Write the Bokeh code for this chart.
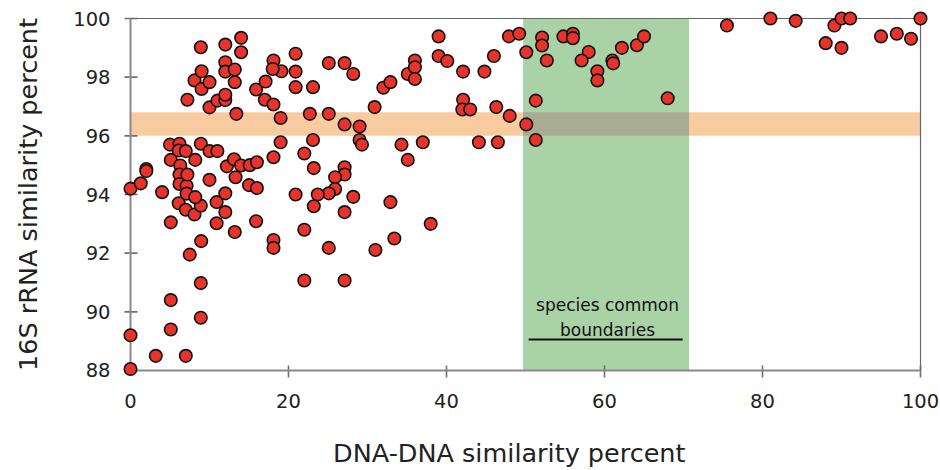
from bokeh.plotting import figure
from bokeh.models import Range1d, FixedTicker, Label, LinearAxis
from bokeh.embed import file_html
from bokeh.resources import INLINE

# ---- data ----
dna_similarity = [
    0.0, 0.0, 0.0, 1.3, 2.0, 2.0, 3.2, 4.0,
    5.0, 5.1, 5.1, 5.1, 5.1, 6.2, 6.1, 6.3, 6.2, 6.2, 7.1, 7.1, 7.0, 7.2, 6.1, 7.0, 8.1, 8.9, 8.2, 8.2, 8.9, 10.0, 11.0, 10.0,
    7.2, 8.1, 9.0, 9.0, 10.0, 8.9, 10.0, 11.0, 12.0, 12.0, 13.4, 12.0, 14.0, 14.0, 12.0, 12.0, 13.2, 13.2,
    7.0, 7.5, 8.9, 8.9, 8.95, 10.9, 12.0, 12.0, 10.9, 13.2, 12.2, 13.1, 14.0, 13.3, 15.1, 16.0, 15.0, 16.0, 15.9,
    15.9, 17.1, 17.0, 18.1, 19.0, 19.0, 18.1, 18.1, 19.1, 18.0, 20.9, 20.9, 20.9, 23.1, 25.1, 27.1, 28.2, 18.1, 18.1,
    22.7, 25.1, 27.1, 29.0, 29.0, 29.3, 23.1, 22.0, 23.2, 27.1, 27.1, 25.9, 25.9, 25.1, 23.7, 20.9, 28.2, 23.2, 27.1, 22.0, 25.1, 22.0, 27.1,
    30.9, 32.0, 32.9, 35.1, 36.0, 36.0, 36.0, 39.0, 39.0, 40.1, 34.3, 37.0, 35.1, 32.9, 33.4, 31.0, 38.0,
    42.1, 44.8, 46.0, 47.9, 49.2, 50.1, 42.1, 42.0, 43.0, 46.3, 48.0, 50.1, 44.1, 46.5, 51.3, 51.3,
    52.1, 52.1, 52.7, 54.8, 56.0, 56.0, 58.0, 57.1, 59.1, 59.1, 61.0, 61.1, 62.2, 64.1, 65.0, 68.0,
    75.5, 81.0, 84.2, 89.1, 90.0, 91.1, 88.0, 90.0, 95.0, 97.0, 98.8, 100.0,
]
rrna_similarity = [
    94.2, 89.2, 88.05, 94.38, 94.87, 94.8, 88.5, 94.08,
    95.7, 95.18, 93.05, 90.4, 89.4, 95.73, 95.5, 94.99, 94.68, 94.36, 94.3, 94.03, 95.48, 94.68, 93.7, 93.48, 93.32, 93.62, 93.91, 95.18, 95.73, 95.48, 95.48, 94.5,
    97.23, 97.89, 98.2, 97.6, 97.83, 99.02, 96.97, 97.2, 97.22, 97.4, 96.75, 99.11, 99.34, 98.85, 98.51, 98.19, 98.26, 97.83,
    88.5, 91.95, 90.98, 89.8, 92.41, 93.74, 94.04, 93.4, 93.02, 92.72, 94.96, 95.2, 94.99, 94.59, 95.0, 95.1, 94.32, 94.22, 93.09,
    97.58, 97.85, 97.23, 97.07, 96.61, 95.78, 95.27, 98.57, 98.2, 98.28, 98.8, 98.19, 97.66, 97.66, 98.48, 98.48, 98.11, 92.45, 92.18,
    96.75, 96.75, 96.39, 96.32, 95.86, 95.7, 95.86, 95.4, 94.9, 94.93, 94.68, 94.59, 94.19, 94.04, 94.0, 94.0, 93.92, 93.6, 93.4, 92.8, 92.18, 91.07, 91.07,
    96.98, 97.64, 97.83, 98.11, 98.57, 98.34, 97.94, 99.39, 98.72, 98.55, 95.7, 95.78, 95.18, 93.74, 92.5, 92.11, 93.0,
    98.19, 98.19, 98.72, 99.39, 99.48, 98.85, 97.23, 96.9, 96.9, 96.98, 96.68, 96.39, 95.78, 95.78, 95.86, 97.2,
    99.35, 99.08, 98.57, 99.39, 99.48, 99.33, 98.86, 98.57, 98.2, 97.89, 98.57, 98.47, 99.0, 99.09, 99.39, 97.28,
    99.76, 100.0, 99.92, 99.76, 100.0, 100.0, 99.16, 99.0, 99.39, 99.48, 99.31, 100.0,
]
x_ticks = [0, 20, 40, 60, 80, 100]
y_ticks = [88, 90, 92, 94, 96, 98, 100]
x_limits = [0, 100]
y_limits = [88, 100]
rrna_band = [96.0, 96.8]          # 16S rRNA threshold band
dna_band = [49.7, 70.7]           # species common boundaries band
band_text = ["species common", "boundaries"]
x_title = "DNA-DNA similarity percent"
y_title = "16S rRNA similarity percent"

# ---- layout ----
PX_X = 7.9      # px per x unit
PX_Y = 29.333   # px per y unit
PAD_X, PAD_Y = 9, 8
TICK_COLOR = "#6f6f6f"

p = figure(
    frame_width=808, frame_height=368,
    x_range=Range1d(x_limits[0] - PAD_X / PX_X, x_limits[1] + PAD_X / PX_X),
    y_range=Range1d(y_limits[0] - PAD_Y / PX_Y, y_limits[1] + PAD_Y / PX_Y),
    min_border_left=121, min_border_right=11, min_border_top=10, min_border_bottom=92,
    output_backend="svg", toolbar_location=None,
)
p.grid.visible = False
p.outline_line_color = None
p.background_fill_color = "white"
p.border_fill_color = "white"

# bands
p.quad(left=[x_limits[0]], right=[x_limits[1]], bottom=[rrna_band[0]], top=[rrna_band[1]],
       fill_color="#F8CBA0", line_color=None)
p.quad(left=[dna_band[0]], right=[dna_band[1]], bottom=[y_limits[0]], top=[y_limits[1]],
       fill_color="#A9D3A7", line_color=None)
p.quad(left=[dna_band[0]], right=[dna_band[1]], bottom=[rrna_band[0]], top=[rrna_band[1]],
       fill_color="#A9AB92", line_color=None)

# tick marks crossing the axis lines
xt = [t for t in x_ticks if t != x_limits[0]]
p.segment(x0=xt, x1=xt, y0=[y_limits[0] - 7 / PX_Y] * len(xt), y1=[y_limits[0] + 5 / PX_Y] * len(xt),
          line_color=TICK_COLOR, line_width=1.6)
yt = [t for t in y_ticks if t != y_limits[0]]
p.segment(y0=yt, y1=yt, x0=[x_limits[0] - 6 / PX_X] * len(yt), x1=[x_limits[0] + 7 / PX_X] * len(yt),
          line_color=TICK_COLOR, line_width=1.6)

# frame lines
p.segment(x0=[x_limits[0], x_limits[0]], y0=[y_limits[0], y_limits[0]],
          x1=[x_limits[1], x_limits[0]], y1=[y_limits[0], y_limits[1]],
          line_color="#8a8a8a", line_width=2)
p.segment(x0=[x_limits[0], x_limits[1]], y0=[y_limits[1], y_limits[0]],
          x1=[x_limits[1], x_limits[1]], y1=[y_limits[1], y_limits[1]],
          line_color="#666666", line_width=1.2)

# band label with underline
p.add_layout(Label(x=60.38, y=90.22, text=band_text[0], text_align="center",
                   text_baseline="alphabetic", text_font="DejaVu Sans",
                   text_font_size="17px", text_color="#111111"))
p.add_layout(Label(x=60.38, y=89.39, text=band_text[1], text_align="center",
                   text_baseline="alphabetic", text_font="DejaVu Sans",
                   text_font_size="17px", text_color="#111111"))
p.segment(x0=[50.4], y0=[89.06], x1=[69.9], y1=[89.06], line_color="#111111", line_width=2)

# points
p.scatter(dna_similarity, rrna_similarity, size=12.5, marker="circle",
          fill_color="#E8332B", line_color="#111111", line_width=1.6)

# axes: labels only (ticks drawn above)
for ax, ticks in ((p.xaxis, x_ticks), (p.yaxis, y_ticks)):
    ax.ticker = FixedTicker(ticks=ticks)
    ax.axis_line_color = None
    ax.major_tick_line_color = None
    ax.major_tick_out = 0
    ax.major_tick_in = 0
    ax.minor_tick_line_color = None
    ax.major_label_text_font = "DejaVu Sans"
    ax.major_label_text_font_size = "19.5px"
    ax.major_label_text_color = "#222222"
p.xaxis.major_label_standoff = 15
p.yaxis.major_label_standoff = 11

p.yaxis.axis_label = y_title
p.yaxis.axis_label_text_font = "DejaVu Sans"
p.yaxis.axis_label_text_font_size = "25.5px"
p.yaxis.axis_label_text_font_style = "normal"
p.yaxis.axis_label_text_color = "#222222"
p.yaxis.axis_label_standoff = 27

# x title on a tick-less axis below; trailing no-break spaces move the
# centred title slightly left, as in the original
title_axis = LinearAxis(ticker=FixedTicker(ticks=[]),
                        axis_label=x_title + "\u00a0" * 4, axis_line_color=None,
                        major_tick_line_color=None, minor_tick_line_color=None,
                        major_tick_in=0, major_tick_out=0, minor_tick_out=0,
                        axis_label_standoff=27,
                        axis_label_text_font="DejaVu Sans",
                        axis_label_text_font_size="25.5px",
                        axis_label_text_font_style="normal",
                        axis_label_text_color="#222222")
p.add_layout(title_axis, "below")

open("out.html", "w").write(file_html(p, INLINE))
